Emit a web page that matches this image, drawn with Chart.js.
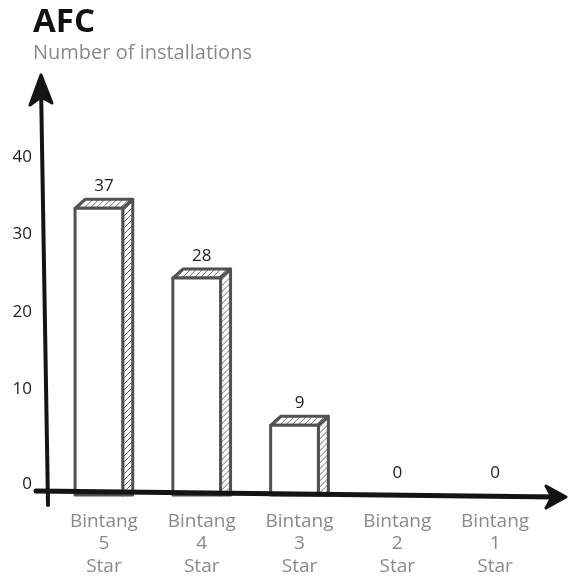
<!DOCTYPE html>
<html>
<head>
<meta charset="utf-8">
<script src="https://cdn.jsdelivr.net/npm/chart.js@4.4.1/dist/chart.umd.min.js"></script>
<style>
body { margin: 0; background: #fff; }
#wrap { position: relative; width: 568px; height: 581px; }
canvas { position: absolute; left: 0; top: 0; }
.title { position: absolute; left: 33px; top: 0px; font: bold 33px 'Open Sans', sans-serif; color: #111; line-height: 40px; }
.sub { position: absolute; left: 33px; top: 39px; font: 20px 'Open Sans', sans-serif; color: #8a8a8a; line-height: 26px; }
</style>
</head>
<body>
<div id="wrap">
	<canvas id="chart" width="568" height="581"></canvas>
	<div class="title">AFC</div>
	<div class="sub">Number of installations</div>
</div>
<script>
// Data
const categories = [
	['Bintang', '5', 'Star'],
	['Bintang', '4', 'Star'],
	['Bintang', '3', 'Star'],
	['Bintang', '2', 'Star'],
	['Bintang', '1', 'Star'],
];
const installations = [37, 28, 9, 0, 0];
const yMax = 40;
const yStep = 10;

// hatch a closed path
function hatch(ctx, pts) {
	ctx.save();
	ctx.beginPath();
	pts.forEach((p, i) => (i ? ctx.lineTo(p[0], p[1]) : ctx.moveTo(p[0], p[1])));
	ctx.closePath();
	ctx.clip();
	const xs = pts.map((p) => p[0]);
	const ys = pts.map((p) => p[1]);
	const x0 = Math.min(...xs), x1 = Math.max(...xs);
	const y0 = Math.min(...ys), y1 = Math.max(...ys);
	const h = y1 - y0;
	ctx.strokeStyle = '#6a6a6a';
	ctx.lineWidth = 1;
	ctx.beginPath();
	for (let k = x0 - h; k < x1 + 6; k += 6) {
		ctx.moveTo(k, y1);
		ctx.lineTo(k + h, y0);
	}
	ctx.stroke();
	ctx.restore();
}

function poly(ctx, pts) {
	ctx.beginPath();
	pts.forEach((p, i) => (i ? ctx.lineTo(p[0], p[1]) : ctx.moveTo(p[0], p[1])));
	ctx.closePath();
}

// sketchy 3d bars + arrow axes
const sketch = {
	id: 'sketch',
	afterDatasetsDraw(chart) {
		const ctx = chart.ctx;
		const area = chart.chartArea;
		const meta = chart.getDatasetMeta(0);
		const depth = 10, lift = 9;

		ctx.save();
		ctx.lineJoin = 'round';
		ctx.lineCap = 'round';
		meta.data.forEach((bar, i) => {
			const p = bar.getProps(['x', 'y', 'base', 'width'], true);
			const left = p.x - p.width / 2;
			const right = p.x + p.width / 2;
			const fr = right - depth;
			const top = p.y;
			if (installations[i] > 0) {
				const topFace = [[left, top], [fr, top], [right, top - lift], [left + depth, top - lift]];
				const side = [[fr, top], [right, top - lift], [right, p.base], [fr, p.base]];
				hatch(ctx, topFace);
				hatch(ctx, side);
				ctx.strokeStyle = '#515151';
				ctx.lineWidth = 3;
				poly(ctx, topFace);
				ctx.stroke();
				poly(ctx, side);
				ctx.stroke();
				ctx.fillStyle = '#fff';
				ctx.fillRect(left, top, fr - left, p.base - top);
				ctx.strokeRect(left, top, fr - left, p.base - top);
			}
			ctx.fillStyle = '#222';
			ctx.font = '17px "Open Sans"';
			ctx.textAlign = 'center';
			ctx.textBaseline = 'middle';
			ctx.fillText(String(installations[i]), p.x, top - 22);
		});

		// y axis with arrow
		ctx.strokeStyle = '#141414';
		ctx.fillStyle = '#141414';
		ctx.lineWidth = 4;
		ctx.beginPath();
		ctx.moveTo(area.left - 7, area.bottom + 10);
		ctx.lineTo(area.left - 14, area.top - 100);
		ctx.stroke();
		const tx = area.left - 14, ty = area.top - 110;
		ctx.lineWidth = 3;
		poly(ctx, [[tx, ty], [tx + 11, ty + 28], [tx, ty + 22], [tx - 11, ty + 30]]);
		ctx.fill();
		ctx.stroke();

		// x axis with arrow
		ctx.lineWidth = 5;
		ctx.beginPath();
		ctx.moveTo(area.left - 19, area.bottom - 4);
		ctx.lineTo(chart.width - 12, area.bottom + 2);
		ctx.stroke();
		const ax = chart.width - 2, ay = area.bottom + 2;
		ctx.lineWidth = 3;
		poly(ctx, [[ax, ay], [ax - 20, ay + 11], [ax - 14, ay], [ax - 20, ay - 11]]);
		ctx.fill();
		ctx.stroke();
		ctx.restore();
	},
};

new Chart(document.getElementById('chart'), {
	type: 'bar',
	data: {
		labels: categories,
		datasets: [
			{
				label: 'Installations',
				data: installations,
				backgroundColor: 'rgba(0,0,0,0)',
				borderWidth: 0,
				barPercentage: 0.59,
				categoryPercentage: 1,
			},
		],
	},
	options: {
		responsive: false,
		animation: false,
		layout: {
			padding: { top: 185, right: 24, bottom: 0, left: 0 },
		},
		plugins: {
			legend: { display: false },
			tooltip: { enabled: false },
		},
		scales: {
			x: {
				grid: { display: false, drawTicks: false },
				border: { display: false },
				ticks: {
					color: '#8a8a8a',
					padding: 16,
					font: { family: 'Open Sans', size: 19, lineHeight: 1.16 },
				},
				afterFit: (s) => { s.height = 86; },
			},
			y: {
				min: 0,
				max: yMax,
				grid: { display: false, drawTicks: false },
				border: { display: false },
				ticks: {
					stepSize: yStep,
					color: '#222',
					padding: 23,
					labelOffset: -28,
					// the zero label sits lower in the original sketch
					callback: (v) => (v === 0 ? ['', '0'] : v),
					font: (c) => ({
						family: 'Open Sans',
						size: 17,
						lineHeight: c.tick && c.tick.value === 0 ? '34px' : 1.2,
					}),
				},
				afterFit: (s) => { s.width = 55; },
			},
		},
	},
	plugins: [sketch],
});
</script>
</body>
</html>
